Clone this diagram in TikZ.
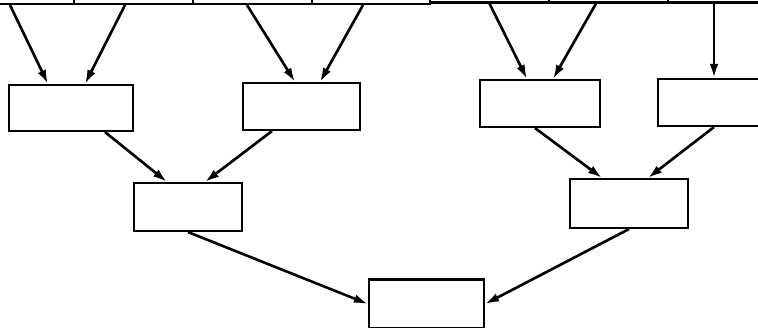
\documentclass[tikz,border=0pt]{standalone}
\usetikzlibrary{arrows.meta}

\begin{document}
\begin{tikzpicture}[
  box/.style={draw,rectangle,inner sep=0pt,line width=1.2pt},
  flow/.style={line width=1.5pt,-{Latex[length=8pt,width=5pt]}}
]
\useasboundingbox (0,0) rectangle (15.16,-6.56);
\clip (0,0) rectangle (15.16,-6.56);

% top row, cut off by the page edge
\node[box,minimum width=2.68cm,minimum height=1cm] (t1) at (0.14,0.42) {};
\node[box,minimum width=2.38cm,minimum height=1cm] (t2) at (2.67,0.42) {};
\node[box,minimum width=2.38cm,minimum height=1cm] (t3) at (5.05,0.42) {};
\node[box,minimum width=2.36cm,minimum height=1cm] (t4) at (7.42,0.42) {};
\node[box,minimum width=2.38cm,minimum height=1cm] (t5) at (9.79,0.45) {};
\node[box,minimum width=2.38cm,minimum height=1cm] (t6) at (12.17,0.45) {};
\node[box,minimum width=1.84cm,minimum height=1cm] (t7) at (14.28,0.45) {};

% second row
\node[box,minimum width=2.48cm,minimum height=0.92cm] (b1) at (1.42,-2.16) {};
\node[box,minimum width=2.34cm,minimum height=0.94cm] (b2) at (6.03,-2.13) {};
\node[box,minimum width=2.4cm,minimum height=0.94cm] (b3) at (10.8,-2.07) {};
\node[box,minimum width=2.24cm,minimum height=0.94cm] (b4) at (14.28,-2.05) {};

% third row
\node[box,minimum width=2.16cm,minimum height=0.96cm] (c1) at (3.76,-4.14) {};
\node[box,minimum width=2.36cm,minimum height=0.98cm] (c2) at (12.58,-4.07) {};

% result
\node[box,minimum width=2.3cm,minimum height=0.98cm] (d) at (8.53,-6.08) {};

\path[flow]
([xshift=0.06cm]t1.south) edge ([xshift=-0.46cm]b1.north)
([xshift=-0.17cm]t2.south) edge ([xshift=0.28cm]b1.north)
([xshift=-0.11cm]t3.south) edge ([xshift=-0.13cm]b2.north)
([xshift=-0.16cm]t4.south) edge ([xshift=0.37cm]b2.north)
(t5.south) edge ([xshift=-0.26cm]b3.north)
([xshift=-0.25cm]t6.south) edge ([xshift=0.26cm]b3.north)
(t7.south) edge (b4.north)
([xshift=0.68cm]b1.south) edge ([xshift=-0.42cm]c1.north)
([xshift=-0.59cm]b2.south) edge ([xshift=0.34cm]c1.north)
([xshift=-0.1cm]b3.south) edge ([xshift=-0.54cm]c2.north)
(b4.south) edge ([xshift=0.38cm]c2.north)
(c1.south) edge (d.west)
(c2.south) edge (d.east);
\end{tikzpicture}
\end{document}
